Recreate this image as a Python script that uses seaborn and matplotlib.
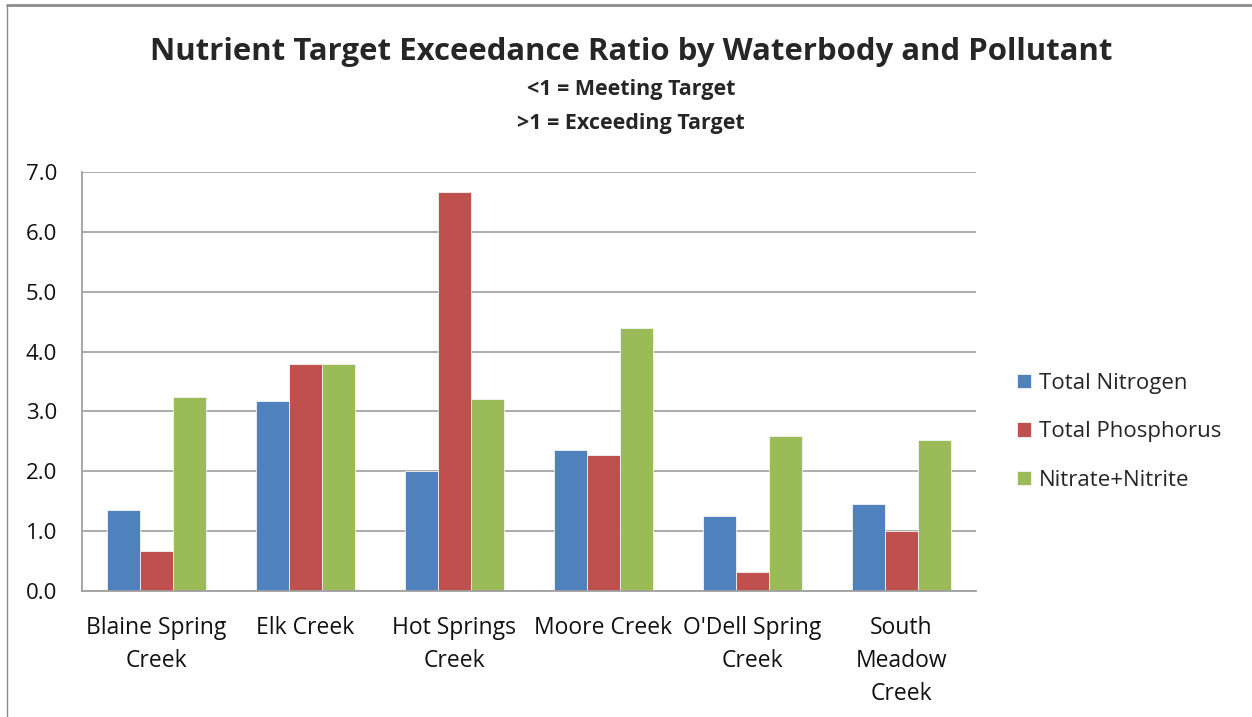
import numpy as np
import pandas as pd
import matplotlib.pyplot as plt
import seaborn as sns
from matplotlib.lines import Line2D

# values
waterbodies = ['Blaine Spring\nCreek', 'Elk Creek', 'Hot Springs\nCreek', 'Moore Creek',
               "O'Dell Spring\nCreek", 'South\nMeadow\nCreek']
pollutants = ['Total Nitrogen', 'Total Phosphorus', 'Nitrate+Nitrite']
total_nitrogen = [1.35, 3.18, 2.01, 2.36, 1.26, 1.46]
total_phosphorus = [0.67, 3.80, 6.67, 2.28, 0.32, 1.01]
nitrate_nitrite = [3.24, 3.80, 3.21, 4.39, 2.59, 2.53]
colors = ['#4F81BD', '#C0504D', '#9BBB59']

df_ratio = pd.DataFrame({'Waterbody': waterbodies * 3,
                         'Pollutant': np.repeat(pollutants, len(waterbodies)),
                         'Ratio': total_nitrogen + total_phosphorus + nitrate_nitrite})

sns.set_style('white')
plt.rcParams['font.family'] = ['Open Sans', 'DejaVu Sans']

f, plot_ratio = plt.subplots(figsize = (12.52, 7.17), dpi = 100)
f.subplots_adjust(left = 82 / 1252, right = 976 / 1252, top = 1 - 172 / 717, bottom = 1 - 591 / 717)

plot_ratio = sns.barplot(data = df_ratio, x = 'Waterbody', y = 'Ratio', hue = 'Pollutant',
                         palette = colors, width = 0.66, gap = 0, ax = plot_ratio,
                         edgecolor = '#f4f4f4', linewidth = 0.6, saturation = 1)

plot_ratio.set_ylim(0, 7)
plot_ratio.set_yticks(np.arange(0, 7.01, 1.0))
plot_ratio.set_yticklabels([f'{v:.1f}' for v in np.arange(0, 7.01, 1.0)], fontsize = 16)
plot_ratio.tick_params(axis = 'x', labelsize = 16.5, length = 0, pad = 18, colors = '#111111')
plot_ratio.tick_params(axis = 'y', length = 0, pad = 18, colors = '#111111')
for lbl in plot_ratio.get_xticklabels():
    lbl.set_linespacing(1.5)
plot_ratio.set_xlabel('')
plot_ratio.set_ylabel('')
plot_ratio.yaxis.grid(True, color = '#a6a6a6', linewidth = 1.3)
plot_ratio.set_axisbelow(True)
for side in ['top', 'right']:
    plot_ratio.spines[side].set_visible(False)
for side in ['left', 'bottom']:
    plot_ratio.spines[side].set_color('#a0a0a0')
    plot_ratio.spines[side].set_linewidth(1.3)

plot_ratio.legend(loc = 'center left', bbox_to_anchor = (1.024, 0.38), frameon = False,
                  fontsize = 16, handlelength = 0.6, handleheight = 0.6, handletextpad = 0.35,
                  labelspacing = 1.25)

f.text(0.504, 1 - 52 / 717, 'Nutrient Target Exceedance Ratio by Waterbody and Pollutant',
       ha = 'center', va = 'center', fontsize = 22.4, fontweight = 'bold')
f.text(0.504, 1 - 90 / 717, '<1 = Meeting Target', ha = 'center', va = 'center',
       fontsize = 15.5, fontweight = 'bold')
f.text(0.504, 1 - 124 / 717, '>1 = Exceeding Target', ha = 'center', va = 'center',
       fontsize = 15.5, fontweight = 'bold')

# chart frame
f.add_artist(Line2D([7 / 1252, 1], [1 - 5 / 717, 1 - 5 / 717], color = '#8c8c8c', linewidth = 2))
f.add_artist(Line2D([7 / 1252, 7 / 1252], [0, 1 - 5 / 717], color = '#8c8c8c', linewidth = 1))

plt.savefig('out.png', dpi = 100)
